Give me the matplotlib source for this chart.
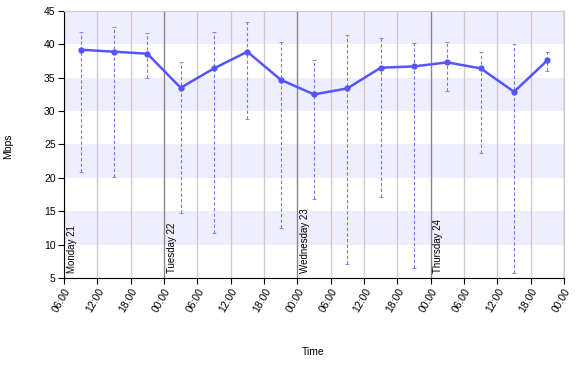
import matplotlib
matplotlib.use("Agg")
import matplotlib.pyplot as plt
import matplotlib.dates as mdates
import numpy as np
import pandas as pd

plt.rcParams['font.family'] = ['Liberation Sans', 'DejaVu Sans']

# measurement times (every 6 hours, offset by 3h)
times = pd.date_range("2013-10-21 09:00", periods=15, freq="6h")
mean_mbps = [39.2, 38.9, 38.6, 33.5, 36.4, 38.9, 34.7, 32.5, 33.4, 36.5, 36.7, 37.3, 36.4, 32.9, 37.6]
max_mbps = [41.8, 42.6, 41.7, 37.4, 41.9, 43.4, 40.3, 37.6, 41.4, 40.9, 40.2, 40.3, 38.9, 40.1, 38.9]
min_mbps = [20.9, 20.2, 34.9, 14.7, 11.7, 28.8, 12.5, 16.8, 7.1, 17.2, 6.5, 33.0, 23.7, 5.7, 36.0]
day_names = ["Monday 21", "Tuesday 22", "Wednesday 23", "Thursday 24"]
day_starts = pd.to_datetime(["2013-10-21 06:00", "2013-10-22 00:00", "2013-10-23 00:00", "2013-10-24 00:00"])

mean = np.array(mean_mbps)
lo = mean - np.array(min_mbps)
hi = np.array(max_mbps) - mean

fig = plt.figure(figsize=(5.77, 3.66), dpi=100)
ax = fig.add_axes([0.1109, 0.2404, 0.8666, 0.7296])

x0 = pd.Timestamp("2013-10-21 06:00")
x1 = pd.Timestamp("2013-10-25 00:00")
ax.set_xlim(x0, x1)
ax.set_ylim(5, 45)

# alternating bands
for b in range(10, 45, 10):
    ax.axhspan(b, b + 5, color="#eeeeff", zorder=0, lw=0)

# vertical grid lines
ticks = pd.date_range(x0, x1, freq="6h")
for t in ticks:
    if t.hour == 0:
        ax.axvline(t, color="#888888", lw=1, zorder=1)
    else:
        ax.axvline(t, color="#cccccc", lw=1, zorder=1)

eb = ax.errorbar(times, mean, yerr=[lo, hi], fmt="none", ecolor="#7777ff",
                 elinewidth=0.8, capsize=1.6, capthick=0.6, zorder=2)
eb[2][0].set_linestyle((0, (3, 2)))
ax.plot(times, mean, color="#5555ff", lw=1.8, marker="o", ms=3.5, zorder=3)

for name, d in zip(day_names, day_starts):
    ax.text(d + pd.Timedelta(hours=0.5), 5.8, name, rotation=90, fontsize=7,
            ha="left", va="bottom", zorder=4)

ax.set_xticks(ticks)
ax.xaxis.set_major_formatter(mdates.DateFormatter("%H:%M"))
for lab in ax.get_xticklabels():
    lab.set_rotation(60)
    lab.set_ha("right")
    lab.set_rotation_mode("anchor")
    lab.set_fontsize(7.5)
ax.set_yticks(range(5, 46, 5))
ax.tick_params(axis="y", labelsize=7.5, length=4, pad=2)
ax.tick_params(axis="x", length=4, pad=2)

for s in ["top", "right"]:
    ax.spines[s].set_color("#cccccc")
for s in ["left", "bottom"]:
    ax.spines[s].set_color("black")

fig.text(0.014, 0.60, "Mbps", rotation=90, fontsize=7.5, va="center", ha="center")
fig.text(0.543, 0.038, "Time", fontsize=7.5, va="center", ha="center")

fig.savefig("out.png", dpi=100)
